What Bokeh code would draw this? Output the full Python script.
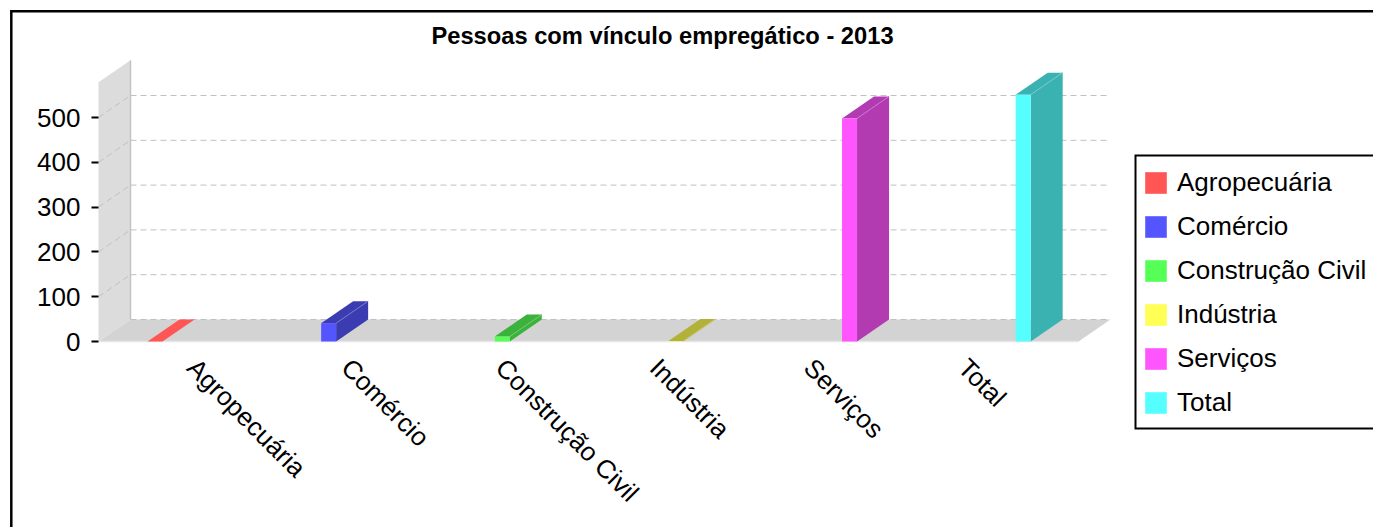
import math
from bokeh.plotting import figure
from bokeh.models import ColumnDataSource, Range1d, FixedTicker, LabelSet, Label
from bokeh.core.properties import value
from bokeh.embed import file_html
from bokeh.resources import INLINE

# ---------------- data ----------------
categories = ["Agropecuária", "Comércio", "Construção Civil", "Indústria", "Serviços", "Total"]
values = [0, 41, 11, 1, 498, 551]
colors = ["#FF5555", "#5555FF", "#55FF55", "#FFFF55", "#FF55FF", "#55FFFF"]
y_ticks = [0, 100, 200, 300, 400, 500]
title_text = "Pessoas com vínculo empregático - 2013"

# ---------------- layout constants (picture pixels) ----------------
W, H = 1373, 527        # canvas size
ORIGIN_X, ORIGIN_Y = 98, 341   # position of (x=0, y=0): front corner of the 3D floor
N = len(categories)
ux = 980.0 / N          # px per category group
uy = 0.448              # px per value unit
FONT = "Liberation Sans"
LEG_L, LEG_T, LEG_B = 1135, 155, 428


def px_x(px):   # picture pixel -> x data
    return (px - ORIGIN_X) / ux


def px_y(py):   # picture pixel -> y data
    return (ORIGIN_Y - py) / uy


DX = 32 / ux          # depth offset (x) in data units
DY = 22 / uy          # depth offset (y) in data units
GROUP_OFF = 49 / ux
SLOT = 10.3 / ux
BAR_W = 15 / ux
LABEL_OFF = 104 / ux
LABEL_STEP = 154.2 / ux


def shade(c, f):
    r, g, b = int(c[1:3], 16), int(c[3:5], 16), int(c[5:7], 16)
    if f <= 1:
        return "#%02X%02X%02X" % (int(r * f), int(g * f), int(b * f))
    t = f - 1
    return "#%02X%02X%02X" % (int(r + (255 - r) * t), int(g + (255 - g) * t), int(b + (255 - b) * t))


p = figure(width=W, height=H, output_backend="svg", toolbar_location=None,
           x_range=Range1d(px_x(0), px_x(W)),
           y_range=Range1d(px_y(H), px_y(0)),
           min_border=0)
p.outline_line_color = None
p.background_fill_color = "white"
p.border_fill_color = "white"
p.xgrid.visible = False
p.ygrid.visible = False
p.xaxis.visible = False

# outer frame border (left / top), continuing past the visible area
p.line([px_x(10.8), px_x(10.8), px_x(W + 20)], [px_y(H + 20), px_y(10.8), px_y(10.8)],
       line_color="black", line_width=2.5, line_join="miter")

# legend box border (open to the right, continuing past the visible area)
p.line([px_x(W + 20), px_x(LEG_L), px_x(LEG_L), px_x(W + 20)],
       [px_y(LEG_T), px_y(LEG_T), px_y(LEG_B), px_y(LEG_B)],
       line_color="black", line_width=2, line_join="miter")

# title
p.add_layout(Label(x=px_x(662), y=px_y(35), text=title_text, text_align="center",
                   text_baseline="alphabetic", text_font=FONT, text_font_style="bold",
                   text_font_size="23.7px", text_color="black"))

# y axis, pinned to the front edge of the wall
ya = p.yaxis[0]
ya.fixed_location = 0
ya.ticker = FixedTicker(ticks=y_ticks)
ya.axis_line_color = None
ya.major_tick_out = 7
ya.major_tick_in = 0
ya.major_tick_line_width = 2
ya.major_tick_line_color = "black"
ya.minor_tick_line_color = None
ya.major_label_standoff = 11
ya.major_label_text_font = FONT
ya.major_label_text_font_size = "26px"
ya.major_label_text_color = "black"

# 3D box: wall and floor
wall_top = 1.05 * max(values)
p.patch([0, DX, DX, 0], [0, DY, wall_top + DY, wall_top], fill_color="#DCDCDC", line_color=None)
p.patch([0, DX, N + DX, N], [0, DY, DY, 0], fill_color="#D3D3D3", line_color=None)
p.line([DX, DX], [DY, wall_top + DY], line_color="#C4C4C4", line_width=1.5)
p.line([0, N], [0, 0], line_color="#E6E6E6", line_width=1.5)

# grid lines (back plane + wall diagonals)
p.segment(x0=[DX] * len(y_ticks), y0=[t + DY for t in y_ticks],
          x1=[N + DX] * len(y_ticks), y1=[t + DY for t in y_ticks],
          line_color="#C0C0C0", line_dash="6 4", line_width=1)
wt = [t for t in y_ticks if t > 0]
p.segment(x0=[0] * len(wt), y0=wt, x1=[DX] * len(wt), y1=[t + DY for t in wt],
          line_color="#C0C0C0", line_dash="6 4", line_width=1)

# bars
lefts = [k + GROUP_OFF + k * SLOT for k in range(N)]
rights = [l + BAR_W for l in lefts]
side_xs, side_ys, side_c = [], [], []
top_xs, top_ys, top_c = [], [], []
edge_x0, edge_y0, edge_x1, edge_y1, edge_c = [], [], [], [], []
for l, r, v, c in zip(lefts, rights, values, colors):
    dc = shade(c, 0.7)
    side_xs.append([r, r + DX, r + DX, r])
    side_ys.append([0, DY, v + DY, v])
    side_c.append(dc)
    top_xs.append([l, l + DX, r + DX, r])
    top_ys.append([v, v + DY, v + DY, v])
    top_c.append(c if v == 0 else dc)
    if v > 0:
        edge_x0.append(r)
        edge_y0.append(v)
        edge_x1.append(r + DX)
        edge_y1.append(v + DY)
        edge_c.append(shade(dc, 1.3))

p.patches(side_xs, side_ys, fill_color=side_c, line_color=None)
p.patches(top_xs, top_ys, fill_color=top_c, line_color=None)
p.segment(x0=edge_x0, y0=edge_y0, x1=edge_x1, y1=edge_y1, line_color=edge_c, line_width=1)
src = ColumnDataSource(dict(left=lefts, right=rights, top=values, cat=categories, color=colors))
p.quad(left="left", right="right", bottom=0, top="top", fill_color="color", line_color=None,
       source=src, legend_field="cat")

# category labels
lab_src = ColumnDataSource(dict(x=[LABEL_OFF + k * LABEL_STEP for k in range(N)], y=[0] * N, text=categories))
p.add_layout(LabelSet(x="x", y="y", text="text", source=lab_src, angle=-math.pi / 4,
                      text_align="left", text_baseline="top", y_offset=-11,
                      text_font=value(FONT), text_font_size="26px", text_color="black"))

# legend (box drawn above)
lg = p.legend[0]
lg.location = (LEG_L + 7, H - LEG_B + 8)
lg.border_line_color = None
lg.background_fill_alpha = 0
lg.label_text_font = FONT
lg.label_text_font_size = "26px"
lg.label_text_color = "black"
lg.glyph_width = 27
lg.glyph_height = 27
lg.label_height = 35
lg.label_standoff = 8
lg.spacing = 9
lg.padding = 6
lg.margin = 0

open("out.html", "w").write(file_html(p, INLINE))
